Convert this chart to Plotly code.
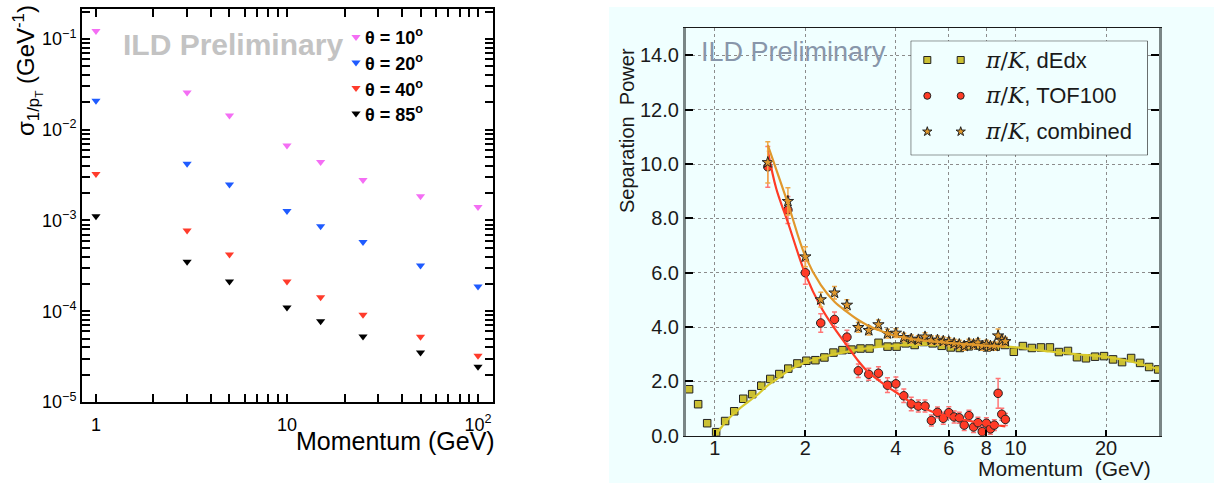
import math
import plotly.graph_objects as go

W, H = 1214, 483

# ---------------- Left panel data ----------------
momentum_gev = [1, 3, 5, 10, 15, 25, 50, 100]
theta_labels = ["θ = 10<sup>o</sup>", "θ = 20<sup>o</sup>", "θ = 40<sup>o</sup>", "θ = 85<sup>o</sup>"]
sigma_theta10 = [0.122, 0.0257, 0.0143, 0.0067, 0.0044, 0.0028, 0.00185, 0.00141]
sigma_theta20 = [0.0209, 0.00423, 0.00249, 0.00127, 0.000865, 0.000578, 0.00032, 0.000187]
sigma_theta40 = [0.00326, 0.000776, 0.000423, 0.000212, 0.000143, 0.0000912, 0.0000524, 0.0000324]
sigma_theta85 = [0.00111, 0.000352, 0.000212, 0.00011, 0.0000776, 0.0000527, 0.000035, 0.0000244]
theta_colors = ["#f46ef4", "#1f5bff", "#ff3b2b", "#000000"]
left_x_ticks = [1, 10, 100]
left_x_ticktext = ["1", "10", "10<sup>2</sup>"]
left_y_ticks = [1e-5, 1e-4, 1e-3, 1e-2, 1e-1]
left_y_ticktext = ["10<sup>−5</sup>", "10<sup>−4</sup>", "10<sup>−3</sup>", "10<sup>−2</sup>", "10<sup>−1</sup>"]

# ---------------- Right panel data ----------------
dedx_p = [0.821, 0.880, 0.943, 1.010, 1.082, 1.160, 1.243, 1.331, 1.427, 1.529,
          1.638, 1.755, 1.881, 2.016, 2.160, 2.314, 2.480, 2.657, 2.847, 3.051,
          3.269, 3.503, 3.753, 4.022, 4.309, 4.618, 4.948, 5.302, 5.681, 6.087,
          6.523, 6.989, 7.489, 8.025, 8.599, 9.211, 9.870, 10.58, 11.33, 12.14,
          13.01, 13.94, 14.94, 16.01, 17.15, 18.38, 19.69, 21.10, 22.61, 24.23,
          25.96, 27.82, 29.81]
dedx_sep = [1.71, 1.16, 0.46, 0.13, 0.54, 0.90, 1.36, 1.53, 1.84, 2.09,
            2.27, 2.47, 2.66, 2.76, 2.78, 2.88, 3.06, 3.15, 3.17, 3.21,
            3.21, 3.42, 3.28, 3.28, 3.40, 3.34, 3.45, 3.40, 3.31, 3.25,
            3.23, 3.29, 3.32, 3.25, 3.28, 3.34, 3.09, 3.30, 3.23, 3.25,
            3.25, 3.08, 3.12, 2.89, 2.85, 2.91, 2.93, 2.81, 2.71, 2.86,
            2.68, 2.53, 2.44]
dedx_fit_p = [1.005, 1.05, 1.1, 1.2, 1.3, 1.4, 1.5, 1.6, 1.75, 2.0, 2.25, 2.5, 3.0, 3.5,
              4.0, 5.0, 6.0, 8.0, 10.0, 13.0, 16.0, 20.0, 24.0, 30.0]
dedx_fit_sep = [0.02, 0.30, 0.58, 0.97, 1.27, 1.55, 1.85, 2.07, 2.38, 2.70, 2.88, 3.00, 3.17, 3.27,
                3.32, 3.35, 3.35, 3.31, 3.25, 3.10, 3.00, 2.90, 2.74, 2.44]

tof_p = [1.5, 1.75, 2.0, 2.25, 2.5, 2.75, 3.0, 3.25, 3.5, 3.75, 4.0, 4.25, 4.5, 4.75, 5.0, 5.25,
         5.5, 5.75, 6.0, 6.25, 6.5, 6.75, 7.0, 7.25, 7.5, 7.75, 8.0, 8.25, 8.5, 8.75, 9.0, 9.25]
tof_sep = [9.90, 8.31, 6.00, 4.15, 4.28, 3.63, 2.39, 2.26, 2.30, 1.86, 1.91, 1.47, 1.17, 1.09, 1.09, 0.56,
           0.86, 0.64, 0.85, 0.69, 0.66, 0.39, 0.74, 0.32, 0.48, 0.15, 0.46, 0.25, 0.39, 1.56, 0.79, 0.60]
tof_err = [0.75, 0.50, 0.42, 0.34, 0.27, 0.25, 0.25, 0.22, 0.24, 0.27, 0.25, 0.25, 0.25, 0.22, 0.22, 0.20,
           0.20, 0.22, 0.22, 0.22, 0.20, 0.20, 0.20, 0.20, 0.20, 0.20, 0.20, 0.20, 0.20, 0.55, 0.22, 0.22]
tof_fit_p = [1.5, 1.6, 1.75, 2.0, 2.25, 2.5, 2.75, 3.0, 3.25, 3.5, 3.75, 4.0, 4.5, 5.0, 5.5, 6.0, 7.0, 8.0, 9.0, 9.25]
tof_fit_sep = [10.5, 9.1, 7.85, 5.95, 4.75, 3.95, 3.32, 2.75, 2.32, 2.05, 1.80, 1.60, 1.23, 1.00, 0.82, 0.72, 0.55, 0.44, 0.36, 0.34]

comb_sep = [10.06, 8.63, 6.59, 5.01, 5.26, 4.81, 3.99, 3.88, 4.09, 3.76, 3.78, 3.62, 3.56, 3.53, 3.64, 3.52,
            3.52, 3.48, 3.46, 3.40, 3.36, 3.30, 3.40, 3.36, 3.42, 3.30, 3.36, 3.30, 3.30, 3.68, 3.52, 3.47]
comb_err = [0.76, 0.50, 0.37, 0.27, 0.23, 0.20, 0.18, 0.17, 0.17, 0.16, 0.16, 0.15, 0.15, 0.15, 0.15, 0.15,
            0.15, 0.15, 0.15, 0.15, 0.15, 0.15, 0.15, 0.15, 0.15, 0.15, 0.15, 0.15, 0.15, 0.25, 0.15, 0.15]
comb_fit_p = [1.5, 1.75, 2.0, 2.25, 2.5, 2.75, 3.0, 3.25, 3.5, 3.75, 4.0, 4.5, 5.0, 6.0, 7.0, 8.0, 9.25]
comb_fit_sep = [10.7, 8.55, 6.60, 5.55, 4.93, 4.56, 4.26, 4.04, 3.89, 3.77, 3.67, 3.56, 3.50, 3.42, 3.36, 3.32, 3.28]

right_x_ticks = [1, 2, 4, 6, 8, 10, 20]
right_y_ticks = [0, 2, 4, 6, 8, 10, 12, 14]
legend_labels = ["dEdx", "TOF100", "combined"]

C_DEDX, C_DEDX_LINE = "#cbc033", "#d8c92c"
C_TOF, C_TOF_ERR = "#ff3b26", "#ff7676"
C_COMB, C_COMB_ERR = "#e0982c", "#efa948"
AZURE = "#f0ffff"
FONT = "Liberation Sans"

# ---------------- Layout geometry (pixels) ----------------
LX_PX, LY_PX = (82, 493), (9, 402)          # left frame: x left/right, y top/bottom
RX_PX, RY_PX = (685.7, 1159), (28.3, 435.7)  # right frame
LX_RANGE = [math.log10(0.845), math.log10(119.8)]
LY_RANGE = [-5, -0.67]
RX_RANGE = [math.log10(0.8), math.log10(30)]
RY_RANGE = [0, 15]
LX_DOM = [LX_PX[0] / W, LX_PX[1] / W]
LY_DOM = [1 - LY_PX[1] / H, 1 - LY_PX[0] / H]
RX_DOM = [RX_PX[0] / W, RX_PX[1] / W]
RY_DOM = [1 - RY_PX[1] / H, 1 - RY_PX[0] / H]


def left_px_to_data(px, py):
    lx = LX_RANGE[0] + (px - LX_PX[0]) / (LX_PX[1] - LX_PX[0]) * (LX_RANGE[1] - LX_RANGE[0])
    ly = LY_RANGE[0] + (LY_PX[1] - py) / (LY_PX[1] - LY_PX[0]) * (LY_RANGE[1] - LY_RANGE[0])
    return 10 ** lx, 10 ** ly


fig = go.Figure()

# ---- Left panel traces ----
for vals, col in zip([sigma_theta10, sigma_theta20, sigma_theta40, sigma_theta85], theta_colors):
    fig.add_trace(go.Scatter(x=momentum_gev, y=vals, mode="markers", xaxis="x", yaxis="y",
                             marker=dict(symbol="triangle-down", size=8, color=col, line=dict(width=0)),
                             showlegend=False, hoverinfo="x+y"))

# ---- Right panel traces ----
fig.add_trace(go.Scatter(x=dedx_p, y=dedx_sep, mode="markers", xaxis="x2", yaxis="y2",
                         marker=dict(symbol="square", size=7.5, color=C_DEDX, line=dict(color="#222", width=1)),
                         showlegend=False))
fig.add_trace(go.Scatter(x=dedx_fit_p, y=dedx_fit_sep, mode="lines", xaxis="x2", yaxis="y2",
                         line=dict(color=C_DEDX_LINE, width=2.2, shape="spline"), showlegend=False))
fig.add_trace(go.Scatter(x=tof_p, y=tof_sep, mode="markers", xaxis="x2", yaxis="y2",
                         error_y=dict(type="data", array=tof_err, color=C_TOF_ERR, thickness=1.5, width=2.5),
                         marker=dict(symbol="circle", size=8.5, color=C_TOF, line=dict(color="#222", width=1)),
                         showlegend=False))
fig.add_trace(go.Scatter(x=tof_fit_p, y=tof_fit_sep, mode="lines", xaxis="x2", yaxis="y2",
                         line=dict(color=C_TOF, width=2.2, shape="spline"), showlegend=False))
fig.add_trace(go.Scatter(x=tof_p, y=comb_sep, mode="markers", xaxis="x2", yaxis="y2",
                         error_y=dict(type="data", array=comb_err, color=C_COMB_ERR, thickness=1.5, width=2.5),
                         marker=dict(symbol="star", size=8.5, color=C_COMB, line=dict(color="#222", width=1)),
                         showlegend=False))
fig.add_trace(go.Scatter(x=comb_fit_p, y=comb_fit_sep, mode="lines", xaxis="x2", yaxis="y2",
                         line=dict(color=C_COMB, width=2.2, shape="spline"), showlegend=False))

# ---- Left legend keys (placed on the left panel's own axes) ----
L_KEY_X, L_TXT_X, L_ROW0, L_ROW_DY = 356, 363, 37, 25.5
for i, col in enumerate(theta_colors):
    kx, ky = left_px_to_data(L_KEY_X, L_ROW0 + i * L_ROW_DY)
    fig.add_trace(go.Scatter(x=[kx], y=[ky], mode="markers", xaxis="x", yaxis="y",
                             marker=dict(symbol="triangle-down", size=8, color=col, line=dict(width=0)),
                             showlegend=False, hoverinfo="skip"))

# ---- Right legend: small overlay axes covering only the legend box (pixel units) ----
R_BOX = (910.7, 40.7, 1147.7, 155.3)
R_KEY_X = [927.3, 960.7]
R_TXT_X = 983
R_ROW0, R_ROW_DY = 60, 35.8
legend_styles = [
    dict(symbol="square", size=7, color=C_DEDX),
    dict(symbol="circle", size=7, color=C_TOF),
    dict(symbol="star", size=7, color=C_COMB),
]
for i, st in enumerate(legend_styles):
    ry = R_ROW0 + i * R_ROW_DY
    fig.add_trace(go.Scatter(x=R_KEY_X, y=[ry, ry], mode="markers", xaxis="x3", yaxis="y3",
                             marker=dict(symbol=st["symbol"], size=st["size"], color=st["color"],
                                         line=dict(color="#222", width=1)),
                             showlegend=False, hoverinfo="skip", cliponaxis=False))

annotations = []
for i, lab in enumerate(theta_labels):
    annotations.append(dict(xref="paper", yref="paper", x=L_TXT_X / W, y=1 - (L_ROW0 + i * L_ROW_DY) / H,
                            text="<b>" + lab + "</b>", showarrow=False, xanchor="left", yanchor="middle",
                            font=dict(family=FONT, size=18, color="black")))
for i, lab in enumerate(legend_labels):
    annotations.append(dict(xref="paper", yref="paper", x=R_TXT_X / W, y=1 - (R_ROW0 + i * R_ROW_DY) / H,
                            text="<span style='font-family:DejaVu Serif'><i>π</i>/<i>K</i></span>, " + lab,
                            showarrow=False, xanchor="left", yanchor="middle",
                            font=dict(family=FONT, size=22, color="#1a1a1a")))

annotations += [
    dict(xref="paper", yref="paper", x=121 / W, y=1 - 45 / H, text="<b>ILD Preliminary</b>",
         showarrow=False, xanchor="left", yanchor="middle", font=dict(family=FONT, size=30, color="#c3c3c3")),
    dict(xref="paper", yref="paper", x=497 / W, y=1 - 441 / H, text="Momentum (GeV)",
         showarrow=False, xanchor="right", yanchor="middle", font=dict(family=FONT, size=25, color="black")),
    dict(xref="paper", yref="paper", x=27 / W, y=1 - 71 / H,
         text="σ<sub>1/p<sub>T</sub></sub> (GeV<sup>-1</sup>)", textangle=-90,
         showarrow=False, xanchor="center", yanchor="middle", font=dict(family=FONT, size=24, color="black")),
    dict(xref="paper", yref="paper", x=699 / W, y=1 - 52 / H, text="ILD Preliminary",
         showarrow=False, xanchor="left", yanchor="middle", font=dict(family=FONT, size=27, color="#8896aa")),
    dict(xref="paper", yref="paper", x=1153 / W, y=1 - 468 / H, text="Momentum  (GeV)",
         showarrow=False, xanchor="right", yanchor="middle", font=dict(family=FONT, size=21, color="#1a1a1a")),
    dict(xref="paper", yref="paper", x=627 / W, y=1 - 131 / H, text="Separation  Power", textangle=-90,
         showarrow=False, xanchor="center", yanchor="middle", font=dict(family=FONT, size=20, color="#1a1a1a")),
]

shapes = [
    dict(type="rect", xref="paper", yref="paper", x0=609 / W, x1=1.0, y0=0.0, y1=1 - 7 / H,
         fillcolor=AZURE, line=dict(width=0), layer="below"),
    dict(type="rect", xref="x3", yref="y3", x0=R_BOX[0], y0=R_BOX[1], x1=R_BOX[2], y1=R_BOX[3],
         fillcolor=AZURE, line=dict(color="black", width=1), layer="below"),
]

# left panel: all tick positions (decades labelled, in-between digits unlabelled)
x_minor = [m * 10 ** e for e in range(0, 2) for m in range(2, 10)]
y_minor = [m * 10.0 ** e for e in range(-5, 0) for m in range(2, 10)]
x_all_vals = left_x_ticks + x_minor
x_all_text = left_x_ticktext + [" "] * len(x_minor)
y_all_vals = left_y_ticks + y_minor
y_all_text = left_y_ticktext + [" "] * len(y_minor)

left_common = dict(showline=True, linecolor="#000000", linewidth=2, mirror="ticks",
                   ticks="inside", ticklen=8, tickwidth=1.5, tickcolor="#000000",
                   showgrid=False, zeroline=False, tickmode="array", automargin=False,
                   tickfont=dict(family=FONT, size=18, color="black"))

fig.update_layout(
    width=W, height=H, margin=dict(l=0, r=0, t=0, b=0, pad=0, autoexpand=False),
    paper_bgcolor="white", plot_bgcolor="rgba(0,0,0,0)", showlegend=False,
    xaxis=dict(type="log", domain=LX_DOM, range=LX_RANGE, anchor="y",
               tickvals=x_all_vals, ticktext=x_all_text, ticklabelstandoff=5, **left_common),
    yaxis=dict(type="log", domain=LY_DOM, range=LY_RANGE, anchor="x",
               tickvals=y_all_vals, ticktext=y_all_text, **left_common),
    xaxis2=dict(type="log", domain=RX_DOM, range=RX_RANGE,
                anchor="y2", tickmode="array", tickvals=right_x_ticks,
                ticktext=[str(v) for v in right_x_ticks], ticklabelstandoff=-6, automargin=False,
                showgrid=True, gridcolor="#8c8c8c", griddash="dot", gridwidth=1,
                showline=True, linecolor="#1a1a1a", linewidth=1.2, mirror=True,
                ticks="inside", ticklen=6, tickwidth=2, tickcolor="black", zeroline=False,
                tickfont=dict(family=FONT, size=20, color="#1a1a1a")),
    yaxis2=dict(domain=RY_DOM, range=RY_RANGE, anchor="x2", automargin=False,
                tickmode="array", tickvals=right_y_ticks, ticktext=[f"{v:.1f}" for v in right_y_ticks],
                showgrid=True, gridcolor="#8c8c8c", griddash="dot", gridwidth=1,
                showline=True, linecolor="#7a8686", linewidth=2.5, mirror="ticks",
                ticks="inside", ticklen=8, tickwidth=2, tickcolor="black", zeroline=False,
                tickfont=dict(family=FONT, size=20, color="#1a1a1a")),
    xaxis3=dict(domain=[R_BOX[0] / W, R_BOX[2] / W], range=[R_BOX[0], R_BOX[2]], anchor="y3",
                visible=False, fixedrange=True, automargin=False),
    yaxis3=dict(domain=[1 - R_BOX[3] / H, 1 - R_BOX[1] / H], range=[R_BOX[3], R_BOX[1]], anchor="x3",
                visible=False, fixedrange=True, automargin=False),
    annotations=annotations,
    shapes=shapes,
)

fig.write_html("out.html", config={"displayModeBar": False},
               post_script="document.body.style.margin='0px';document.body.style.padding='0px';")
